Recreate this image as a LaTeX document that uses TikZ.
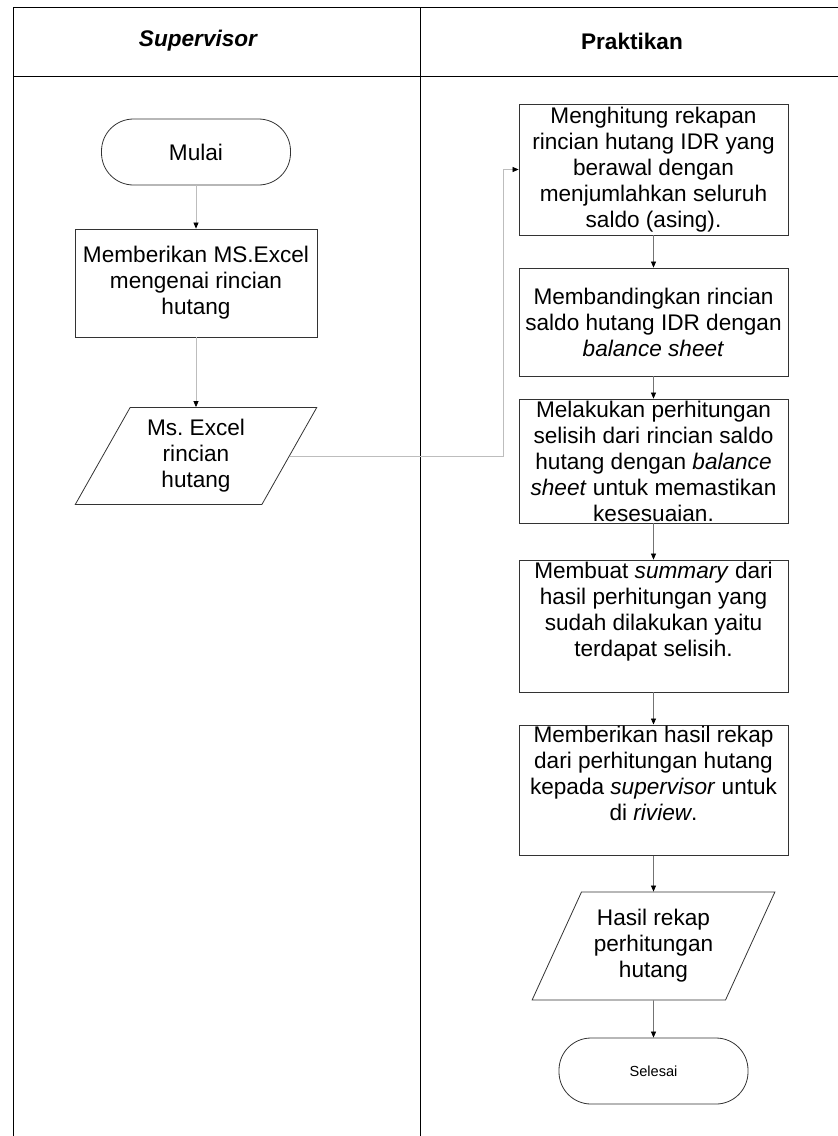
\documentclass[tikz,border=0pt]{standalone}
\usepackage{fontspec}
\setmainfont{Liberation Sans}
\usetikzlibrary{shapes.geometric,arrows.meta}
\definecolor{garis}{rgb}{0.2,0.2,0.2}
\definecolor{alurabu}{rgb}{0.74,0.74,0.74}
\definecolor{alurgelap}{rgb}{0.45,0.45,0.45}
\frenchspacing

\begin{document}
\begin{tikzpicture}[x=1pt,y=-1pt,
    font=\fontsize{22.6}{26}\selectfont,
    proses/.style={draw=garis, line width=0.8pt, rectangle, align=center, inner sep=1pt, minimum width=#1},
    proses/.default=269pt,
    terminal/.style={draw=garis, line width=0.8pt, rectangle, rounded corners=32pt, minimum width=189pt, minimum height=66pt},
    dokumen/.style={draw=garis, line width=0.8pt, trapezium, trapezium left angle=61, trapezium right angle=119,
        trapezium stretches=true, align=center, inner sep=1pt},
    alur/.style={draw=#1, line width=0.7pt, -{Triangle[length=6pt,width=5pt,black]}},
    alur/.default=alurgelap]
\useasboundingbox (0,0) rectangle (838,1136);
% lanes
\draw[line width=1pt] (13,1136) -- (13,7) -- (838,7);
\draw[line width=1pt] (13,76) -- (838,76);
\draw[line width=1pt] (420,7) -- (420,1136);
\node (hdsup) at (198,41) {\bfseries\itshape Supervisor};
\node (hdprak) at (632,41) {\bfseries Praktikan};
% supervisor
\node[terminal] (mulai) at (196,152) {Mulai};
\node[proses=242pt, minimum height=108pt] (beri) at (196,283) {Memberikan MS.Excel\\mengenai rincian\\hutang};
\node[dokumen, minimum width=242pt, minimum height=97pt] (excel) at (196,456) {Ms. Excel\\rincian\\hutang};
% praktikan
\node[proses, minimum height=131pt] (hitung) at (653.5,169.5) {Menghitung rekapan\\rincian hutang IDR yang\\berawal dengan\\menjumlahkan seluruh\\saldo (asing).};
\node[proses, minimum height=108pt] (banding) at (653.5,322) {Membandingkan rincian\\saldo hutang IDR dengan\\\textit{balance sheet}};
\node[proses, minimum height=124pt] (selisih) at (653.5,461) {Melakukan perhitungan\\selisih dari rincian saldo\\hutang dengan \textit{balance}\\\textit{sheet} untuk memastikan\\kesesuaian.};
\node[proses, minimum height=132pt] (summary) at (653.5,626) {Membuat \textit{summary} dari\\hasil perhitungan yang\\sudah dilakukan yaitu\\terdapat selisih.\\\strut};
\node[proses, minimum height=130pt] (rekap) at (653.5,790) {Memberikan hasil rekap\\dari perhitungan hutang\\kepada \textit{supervisor} untuk\\di \textit{riview}.\\\strut};
\node[dokumen, minimum width=243pt, minimum height=108pt] (hasil) at (653.5,946) {Hasil rekap\\perhitungan\\hutang};
\node[terminal, font=\fontsize{14.6}{17}\selectfont] (selesai) at (653.5,1071) {Selesai};
% connectors
\coordinate (belok) at (503,169.5);
\draw[alur=alurabu] (mulai) -- (beri);
\draw[alur=alurabu] (beri) -- (excel);
\draw[alur=alurabu] (excel.east) -| (belok) -- (hitung.west);
\draw[alur] (hitung) -- (banding);
\draw[alur] (banding) -- (selisih);
\draw[alur] (selisih) -- (summary);
\draw[alur] (summary) -- (rekap);
\draw[alur] (rekap) -- (hasil);
\draw[alur] (hasil) -- (selesai);
\end{tikzpicture}
\end{document}
